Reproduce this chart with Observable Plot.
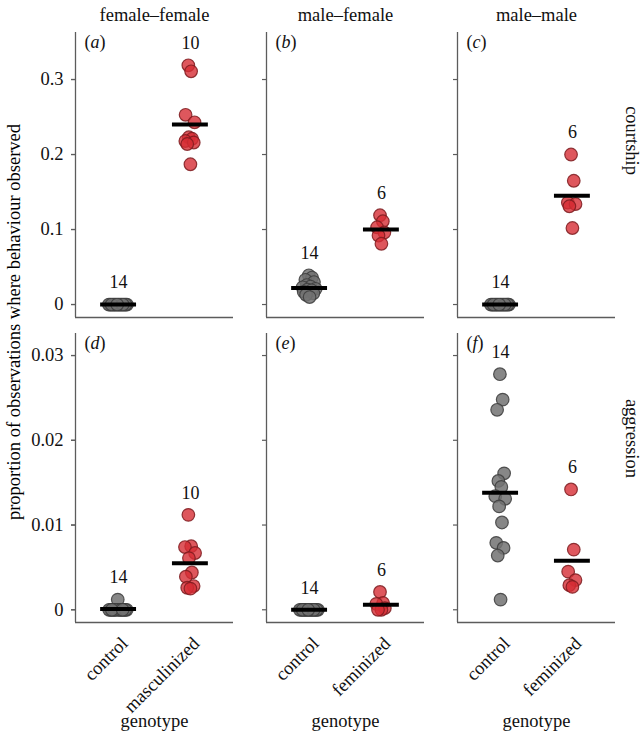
<!DOCTYPE html>
<html><head><meta charset="utf-8">
<script src="https://cdn.jsdelivr.net/npm/d3@7"></script>
<script src="https://cdn.jsdelivr.net/npm/@observablehq/plot@0.6"></script>
<style>
body{margin:0;background:#fff;}
#chart{position:relative;width:641px;height:734px;font-family:"Liberation Serif",serif;color:#000;}
#chart svg{display:block;font-family:"Liberation Serif",serif !important;}
#chart svg text{font-family:"Liberation Serif",serif !important;}
#ytitle{position:absolute;left:14px;top:322px;transform:translate(-50%,-50%) rotate(-90deg);white-space:nowrap;font-size:18.5px;font-family:"Liberation Serif",serif;}
</style></head>
<body><div id="chart"><div id="ytitle">proportion of observations where behaviour observed</div></div>
<script>
// ---- data ----
const pairs = ["female–female", "male–female", "male–male"];
const genotypes = [["control", "masculinized"], ["control", "feminized"], ["control", "feminized"]];
const behaviours = ["courtship", "aggression"];
const panelLetters = [["a", "b", "c"], ["d", "e", "f"]];
const courtshipTicks = [0, 0.1, 0.2, 0.3];
const aggressionTicks = [0, 0.01, 0.02, 0.03];

const courtshipFFcontrol = [0,0,0,0,0,0,0,0,0,0,0,0,0,0];
const courtshipFFmasculinized = [0.319,0.311,0.253,0.243,0.223,0.221,0.218,0.216,0.214,0.187];
const courtshipMFcontrol = [0.039,0.036,0.033,0.030,0.026,0.024,0.023,0.021,0.020,0.019,0.017,0.015,0.013,0.010];
const courtshipMFfeminized = [0.119,0.111,0.103,0.096,0.092,0.081];
const courtshipMMcontrol = [0,0,0,0,0,0,0,0,0,0,0,0,0,0];
const courtshipMMfeminized = [0.200,0.165,0.136,0.134,0.131,0.102];

const aggressionFFcontrol = [0.0012,0,0,0,0,0,0,0,0,0,0,0,0,0];
const aggressionFFmasculinized = [0.0112,0.0075,0.0074,0.0067,0.0061,0.0044,0.0039,0.0028,0.0026,0.0025];
const aggressionMFcontrol = [0,0,0,0,0,0,0,0,0,0,0,0,0,0];
const aggressionMFfeminized = [0.0021,0.0008,0.0007,0.0002,0,0];
const aggressionMMcontrol = [0.0278,0.0248,0.0236,0.0161,0.0152,0.0145,0.0134,0.0131,0.0122,0.0103,0.0079,0.0073,0.0064,0.0012];
const aggressionMMfeminized = [0.0142,0.0071,0.0045,0.0035,0.0029,0.0027];

const courtshipMeans = [[0, 0.240], [0.0222, 0.0999], [0, 0.145]];
const aggressionMeans = [[0.0001, 0.0055], [0, 0.0006], [0.0138, 0.0058]];

// ---- layout ----
const rows = [
  {behaviour: behaviours[0], letters: panelLetters[0], ticks: courtshipTicks, means: courtshipMeans,
   groups: [[courtshipFFcontrol, courtshipFFmasculinized], [courtshipMFcontrol, courtshipMFfeminized], [courtshipMMcontrol, courtshipMMfeminized]],
   height: 325, marginTop: 32, marginBottom: 8, yDomain: [-0.0173, 0.3627], bw: 0.005, top: true},
  {behaviour: behaviours[1], letters: panelLetters[1], ticks: aggressionTicks, means: aggressionMeans,
   groups: [[aggressionFFcontrol, aggressionFFmasculinized], [aggressionMFcontrol, aggressionMFfeminized], [aggressionMMcontrol, aggressionMMfeminized]],
   height: 409, marginTop: 8, marginBottom: 112, yDomain: [-0.0015, 0.0326], bw: 0.0007, top: false}
];
const xDomain = [0.4, 2.6];
const pos = gi => 1 + gi;
const halfLine = 0.25;
const W = 0.155;
const FONT = "Liberation Serif";
const axisGray = "#5c5c5c";
const grayFill = "#727272", grayStroke = "#3c3c3c";
const redFill = "#d62d35", redStroke = "#7d1b1f";

function vdc(n) { let v = 0, d = 1; while (n) { d *= 2; v += (n % 2) / d; n = Math.floor(n / 2); } return v; }
function spread(values, h) {
  const order = d3.range(values.length).sort((a, b) => values[a] - values[b]);
  const offs = new Array(values.length);
  order.forEach((idx, rank) => {
    const dens = d3.sum(values, v => Math.exp(-0.5 * ((v - values[idx]) / h) ** 2));
    const f = 0.45 + 0.55 * Math.min(1, dens / 14);
    offs[idx] = (vdc(rank + 1) - 0.5) * 2 * W * f;
  });
  return offs;
}

const chart = document.getElementById("chart");

rows.forEach(row => {
  const points = [], summary = [];
  pairs.forEach((pair, pi) => {
    genotypes[pi].forEach((geno, gi) => {
      const vals = row.groups[pi][gi];
      const offs = spread(vals, row.bw);
      vals.forEach((v, k) => points.push({pair, geno, gi, value: v, xj: pos(gi) + offs[k]}));
      summary.push({pair, geno, gi, n: vals.length, max: d3.max(vals), mean: row.means[pi][gi]});
    });
  });
  const letters = pairs.map((pair, i) => ({pair, label: "(" + row.letters[i] + ")"}));
  const marks = [
    Plot.ruleY([row.yDomain[0]], {stroke: axisGray, strokeWidth: 1.3}),
    Plot.ruleX([xDomain[0]], {stroke: axisGray, strokeWidth: 1.3}),
    Plot.axisY(row.ticks, {facetAnchor: null, tickSize: 4, stroke: axisGray, strokeWidth: 1.2, tickFormat: () => "", label: null}),
    Plot.axisY(row.ticks, {tickSize: 4, tickPadding: 8, stroke: axisGray, strokeWidth: 1.2, fill: "#111", fontSize: 18.5, fontFamily: FONT,
      tickFormat: d => d === 0 ? "0" : String(d), label: null}),
    Plot.dot(points.filter(d => d.gi === 0), {fx: "pair", x: "xj", y: "value", r: 6.3, fill: grayFill, fillOpacity: 0.85, stroke: grayStroke, strokeOpacity: 0.85, strokeWidth: 1.2}),
    Plot.dot(points.filter(d => d.gi === 1), {fx: "pair", x: "xj", y: "value", r: 6.3, fill: redFill, fillOpacity: 0.8, stroke: redStroke, strokeOpacity: 0.85, strokeWidth: 1.2}),
    Plot.ruleY(summary, {fx: "pair", y: "mean", x1: d => pos(d.gi) - halfLine, x2: d => pos(d.gi) + halfLine, stroke: "black", strokeWidth: 4}),
    Plot.text(summary, {fx: "pair", x: d => pos(d.gi), y: "max", text: d => String(d.n), dy: -22, fontSize: 18, fontFamily: FONT, fill: "#111"}),
    Plot.text(letters, {fx: "pair", text: "label", frameAnchor: "top-left", dx: 9, dy: 3, fontSize: 18, fontFamily: FONT, fill: "#111", textAnchor: "start"}),
    Plot.text([row.behaviour], {fx: () => pairs[2], text: d => d, frameAnchor: "right", dx: 16, rotate: 90, fontSize: 18.5, fontFamily: FONT, fill: "#111"})
  ];
  if (row.top) {
    marks.push(Plot.axisFx({anchor: "top", tickSize: 0, tickPadding: 12, label: null, fontSize: 18.5, fontFamily: FONT, fill: "#111"}));
  } else {
    marks.push(Plot.text(summary, {fx: "pair", x: d => pos(d.gi), text: "geno", frameAnchor: "bottom", lineAnchor: "middle", rotate: -45, textAnchor: "end", dx: 6, dy: 18, fontSize: 18.5, fontFamily: FONT, fill: "#111"}));
    marks.push(Plot.text(pairs, {fx: d => d, text: () => "genotype", frameAnchor: "bottom", lineAnchor: "middle", dy: 99, fontSize: 18.5, fontFamily: FONT, fill: "#111"}));
  }
  const svg = Plot.plot({
    width: 641, height: row.height,
    marginLeft: 75, marginRight: 26, marginTop: row.marginTop, marginBottom: row.marginBottom,
    style: {fontFamily: FONT, fontSize: "17px", background: "white", overflow: "visible"},
    fx: {domain: pairs, paddingInner: 0.175, paddingOuter: 0, axis: row.top ? undefined : null, label: null},
    x: {domain: xDomain, axis: null},
    y: {domain: row.yDomain},
    marks
  });
  svg.querySelectorAll("text").forEach(t => {
    const m = /^\(([a-f])\)$/.exec(t.textContent);
    if (!m || t.children.length) return;
    t.textContent = "";
    t.appendChild(document.createTextNode("("));
    const ts = document.createElementNS("http://www.w3.org/2000/svg", "tspan");
    ts.setAttribute("font-style", "italic");
    ts.textContent = m[1];
    t.appendChild(ts);
    t.appendChild(document.createTextNode(")"));
  });
  chart.appendChild(svg);
});
</script>
</body></html>
